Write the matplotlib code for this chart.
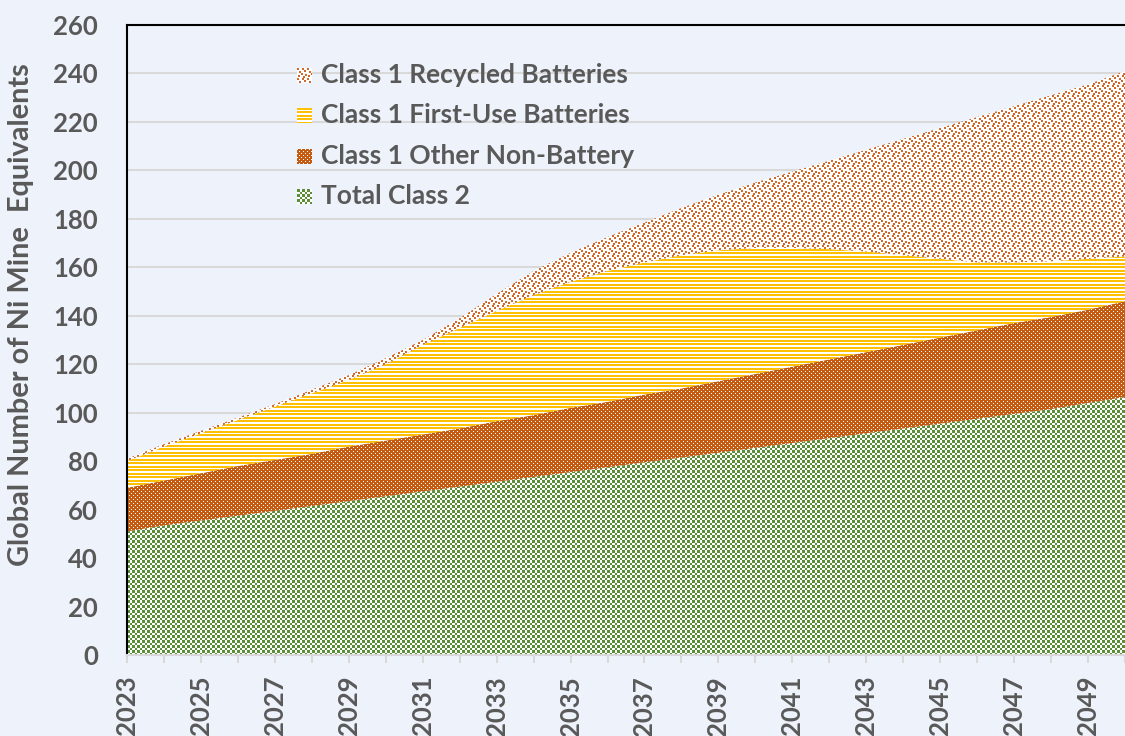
import matplotlib
matplotlib.use("Agg")
import matplotlib.colors as mcolors
import matplotlib.pyplot as plt
import numpy as np

years = list(range(2023, 2051))
total_class2 = [51, 53.5, 55.5, 57.5, 59.5, 61.5, 63.5, 65.5, 67.5, 69.5,
                71.5, 73.5, 75.5, 77.5, 79.5, 81.5, 83.5, 85.5, 87.5, 89.5,
                91.5, 93.5, 95.5, 97.5, 99.5, 101.5, 104, 106.5]
other_non_battery = [18, 18.5, 19.5, 20.5, 21, 21.5, 22.5, 23, 23.5, 24,
                     25, 25.5, 26.5, 27, 28, 28.5, 29.5, 30.5, 31.5, 32.5,
                     33.5, 34.5, 35.5, 36.5, 37.5, 38, 38.5, 39.5]
first_use_batteries = [11, 14, 16.5, 19, 22, 25, 27.5, 31.5, 37, 41.5,
                       45.5, 49.5, 52, 54, 54.5, 55, 54, 52, 49, 45.5,
                       41.5, 37, 32.5, 28, 25, 23, 21, 18.5]
recycled_batteries = [1, 1, 1, 1, 1, 1.5, 2, 2.5, 2, 4,
                      7, 10, 12, 14, 16.5, 19.5, 23, 27, 31.5, 36.5,
                      42, 48, 54, 60, 64.5, 68.5, 72, 76.5]

series_names = ["Total Class 2", "Class 1 Other Non-Battery",
                "Class 1 First-Use Batteries", "Class 1 Recycled Batteries"]
y_ticks = list(range(0, 261, 20))
y_label = "Global Number of Ni Mine  Equivalents"

BG = "#EEF3FB"
TEXT_GREY = "#595959"
GRID_GREY = "#D9D9D9"
GREEN = "#5A8F38"
ORANGE = "#C55A11"
YELLOW = "#FFC000"
RECYCLE_ORANGE = "#D2692A"
FONT = ["Lato", "DejaVu Sans"]

DPI = 100
FIG_W, FIG_H = 1125, 736
AX_X0, AX_Y0, AX_W, AX_H = 127, 81, 998, 630  # axes box in pixels
PX_PER_YEAR = 37.5


def _rgb(c):
    return np.array(mcolors.to_rgb(c))


def _texture(mask, fg, bg, h, w):
    reps = (h // mask.shape[0] + 1, w // mask.shape[1] + 1)
    m = np.tile(mask, reps)[:h, :w]
    return np.where(m[..., None], _rgb(fg), _rgb(bg))


# small pattern tiles (True = foreground colour)
_c = np.floor(np.arange(5) / 2.5).astype(int)
checker = ((_c[:, None] + _c[None, :]) % 2 == 0)

dots = np.ones((4, 4), dtype=bool)
dots[0, 0] = False
dots[2, 2] = False

stripes = np.array([[1], [1], [0], [1], [1], [0], [0]], dtype=bool)

confetti = np.zeros((10, 10), dtype=bool)
for cx, cy in [(0, 0), (5, 0), (2, 3), (7, 2), (4, 5), (8, 6), (1, 7), (6, 8)]:
    confetti[cy:cy + 2, cx:cx + 2] = True

patterns = [
    (checker, GREEN, "white"),
    (dots, ORANGE, "white"),
    (stripes, YELLOW, "white"),
    (confetti, RECYCLE_ORANGE, "white"),
]

plt.rcParams["font.family"] = FONT
plt.rcParams["font.weight"] = "bold"

fig = plt.figure(figsize=(FIG_W / DPI, FIG_H / DPI), dpi=DPI, facecolor=BG)
rect = [AX_X0 / FIG_W, AX_Y0 / FIG_H, AX_W / FIG_W, AX_H / FIG_H]

x_max = 2023 + AX_W / PX_PER_YEAR
y_max = 260

# background axes: only the horizontal grid, so it stays behind the areas
ax_bg = fig.add_axes(rect, zorder=0)
ax_bg.set_facecolor(BG)
ax_bg.set_xlim(2023, x_max)
ax_bg.set_ylim(0, y_max)
ax_bg.set_yticks(y_ticks)
ax_bg.set_xticks([])
ax_bg.yaxis.grid(True, color=GRID_GREY, linewidth=1.5)
ax_bg.tick_params(left=False, labelleft=False)
for s in ax_bg.spines.values():
    s.set_visible(False)

# main axes: transparent, carries spines, ticks, labels and legend
ax = fig.add_axes(rect, zorder=2)
ax.set_facecolor("none")
ax.set_xlim(2023, x_max)
ax.set_ylim(0, y_max)

layers = [total_class2, other_non_battery, first_use_batteries, recycled_batteries]
bottom = np.zeros(len(years))
for values, (mask, fg, bg) in zip(layers, patterns):
    top = bottom + np.array(values)
    poly = ax.fill_between(years, bottom, top, facecolor="none", edgecolor="none")
    # pixel-exact texture, clipped to the stacked area
    tex = fig.figimage(_texture(mask, fg, bg, AX_H, AX_W),
                       xo=AX_X0, yo=AX_Y0, origin="upper", zorder=1)
    tex.set_clip_path(poly.get_paths()[0], ax.transData)
    bottom = top

ax.set_xlim(2023, x_max)
ax.set_ylim(0, y_max)

ax.set_yticks(y_ticks)
ax.tick_params(axis="y", length=0, pad=21, labelsize=18.5, labelcolor=TEXT_GREY)

ax.set_xticks(years)
ax.set_xticklabels([str(y) if (y - 2023) % 2 == 0 else "" for y in years],
                   rotation=90)
ax.tick_params(axis="x", length=6, width=1.5, color=GRID_GREY, pad=9,
               labelsize=18.5, labelcolor=TEXT_GREY)

for side in ["left", "top"]:
    ax.spines[side].set_color("black")
    ax.spines[side].set_linewidth(1.5)
ax.spines["right"].set_visible(False)
ax.spines["bottom"].set_color(GRID_GREY)
ax.spines["bottom"].set_linewidth(1.5)

fig.text(21 / FIG_W, 1 - 315 / FIG_H, y_label, rotation=90,
         ha="center", va="center", fontsize=20.8, color=TEXT_GREY,
         fontweight="bold")

# legend drawn by hand so the markers keep their pixel patterns
legend_rows_px = [75, 115, 156, 196]
marker_size = 15
for name, (mask, fg, bg), y in zip(series_names[::-1], patterns[::-1], legend_rows_px):
    fig.figimage(_texture(mask, fg, bg, marker_size, marker_size),
                 xo=297, yo=FIG_H - y - marker_size // 2 - 1, origin="upper",
                 zorder=3)
    fig.text(321 / FIG_W, 1 - y / FIG_H, name, ha="left", va="center",
             fontsize=19, color=TEXT_GREY, fontweight="bold", zorder=3)

fig.savefig("out.png", dpi=DPI, facecolor=BG)
